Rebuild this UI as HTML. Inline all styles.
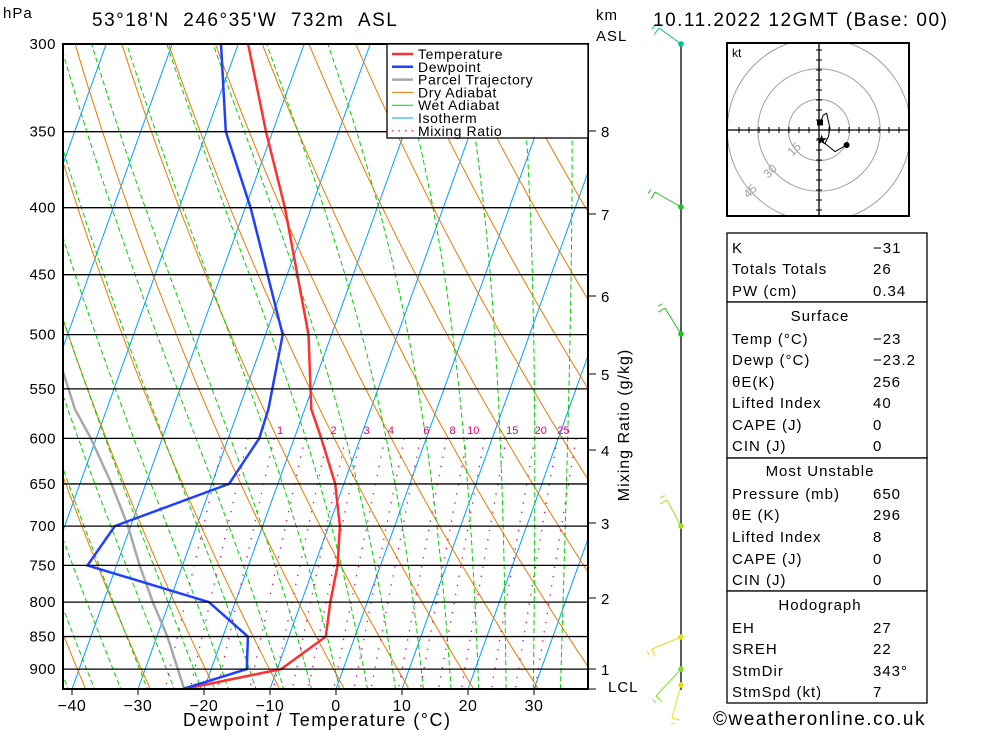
<!DOCTYPE html>
<html><head><meta charset="utf-8"><style>
html,body{margin:0;padding:0;background:#fff;}
svg{display:block;font-family:"Liberation Sans",sans-serif;}
text{fill:#000;}
</style></head><body>
<svg id="c" width="1000" height="733" viewBox="0 0 1000 733">
<defs><clipPath id="pc"><rect x="63" y="44" width="525" height="645"/></clipPath>
<clipPath id="hc"><rect x="727" y="43" width="182" height="173"/></clipPath></defs>
<g id="grid" clip-path="url(#pc)"></g>
<g id="prof" clip-path="url(#pc)"></g>
<g id="axes"></g>
</svg>
<script>
const pLevels=[932,900,850,800,750,700,650,600,570,500,400,350,300];
const tempVals=[-23,-9.4,-4.4,-5.6,-6.5,-8.3,-11.3,-15.9,-19,-23.5,-34,-41,-48.5];
const dewVals=[-23.2,-14.6,-16.2,-24,-44.4,-42.4,-27.4,-25.3,-25.5,-27.4,-39.2,-47.1,-52.6];
const parcelP=[932,850,800,750,700,650,600,570,500];
const parcelT=[-23,-28.4,-32.5,-36.5,-40.4,-45.2,-50.8,-54.8,-62.5];
const isobars=[300,350,400,450,500,550,600,650,700,750,800,850,900];
const tTicks=[-40,-30,-20,-10,0,10,20,30];
const mixLabels=[1,2,3,4,6,8,10,15,20,25];
const mixLines=[0.5,0.7,1,1.5,2,2.5,3,4,5,6,8,10,12,15,20,25,30];
const kmLabels=[1,2,3,4,5,6,7,8];
const kmPix=[669,598,523,450,374,296,214,131];
const hodoU=[13.8,8,3,4.7,5.5,3.8,2.2,0.5];
const hodoV=[-7.5,-10.8,-6.7,-3.3,0.8,8.3,7.5,3.8];

const NS='http://www.w3.org/2000/svg';
const G=document.getElementById('grid'),P=document.getElementById('prof'),A=document.getElementById('axes');
function yP(p){return 44+569*Math.log(p/300);}
function xT(T,y){return 336+6.6*T+0.36*(689-y);}
function el(tag,par,at,txt){const e=document.createElementNS(NS,tag);for(const k in at)e.setAttribute(k,at[k]);if(txt!==undefined)e.textContent=txt;par.appendChild(e);return e;}
function pathFrom(pts){return 'M'+pts.map(q=>q[0].toFixed(1)+','+q[1].toFixed(1)).join('L');}

for(let T=-130;T<=50;T+=10){
 const e=el('line',G,{x1:xT(T,689),y1:689,x2:xT(T,44),y2:44,stroke:'#00a0ff','stroke-width':1});
 
 
}
for(let th=220;th<=480;th+=10){
 const pts=[];for(let p=300;p<=935;p+=10){const T=th*Math.pow(p/1000,0.286)-273.15;const y=yP(p);pts.push([xT(T,y),y]);}
 const e=el('path',G,{d:pathFrom(pts),fill:'none',stroke:'#f07800','stroke-width':1});
 
 
}
function es(T){return 6.112*Math.exp(17.67*T/(T+243.5));}
function moist(T0,p0,p1){const pts=[];let T=T0+273.15,p=p0;const dp=-2;
 while(p>=p1){const y=yP(p);pts.push([xT(T-273.15,y),y]);
  const e=es(T-273.15),rs=0.622*e/(p-e),Lv=2.5e6,Rd=287,cp=1005;
  const dTdp=(1/p)*(Rd*T+Lv*rs)/(cp+Lv*Lv*rs*0.622/(Rd*T*T));T+=dTdp*dp;p+=dp;}
 return pts;}
for(let T0=-36;T0<=40;T0+=4){
 const e=el('path',G,{d:pathFrom(moist(T0,1000,300)),fill:'none',stroke:'#00d000','stroke-width':1,'stroke-dasharray':'5,3'});
 
 
}
function tdw(w,p){const e=w*p/(622+w);const l=Math.log(e/6.112);return 243.5*l/(17.67-l);}
mixLines.forEach(w=>{const pts=[];for(let p=600;p<=935;p+=5){const y=yP(p);pts.push([xT(tdw(w,p),y),y]);}
 const e=el('path',G,{d:pathFrom(pts),fill:'none',stroke:'#e0007a','stroke-width':1.3,'stroke-dasharray':'1.3,8'});
 
 
});
mixLabels.forEach(w=>{const y=yP(600);const t=el('text',A,{x:xT(tdw(w,600),y)+6,y:434,'font-size':11,'text-anchor':'middle',style:'fill:#e0007a'},String(w));
 
 
});
isobars.forEach(p=>{const y=yP(p);
 const l=el('line',A,{x1:63,y1:y,x2:588,y2:y,stroke:'#000','stroke-width':1.3});
 
 
 const t=el('text',A,{x:56,y:y+5,'font-size':15,'text-anchor':'end','letter-spacing':'0.5'},String(p));
 
 
});
{const pts=parcelP.map((p,i)=>{const y=yP(p);return [xT(parcelT[i],y),y];});
 const e=el('path',P,{d:pathFrom(pts),fill:'none',stroke:'#a8a8a8','stroke-width':2.5});
 
 }
function prof(vals,col,name){const pts=pLevels.map((p,i)=>{const y=yP(p);return [xT(vals[i],y),y];});
 const e=el('path',P,{d:pathFrom(pts),fill:'none',stroke:col,'stroke-width':2.5});
 
 }
prof(tempVals,'#ff3030','temperature-line');
prof(dewVals,'#2040ff','dewpoint-line');
{const r=el('rect',A,{x:63,y:44,width:525,height:645,fill:'none',stroke:'#000','stroke-width':2});
 
 }
tTicks.forEach(T=>{const x=xT(T,689);
 el('line',A,{x1:x,y1:689,x2:x,y2:695,stroke:'#000'});
 const t=el('text',A,{x:x,y:711,'font-size':16,'text-anchor':'middle','letter-spacing':'0.5'},T<0?'\u2212'+(-T):String(T));
 
 
});
kmLabels.forEach((k,i)=>{el('line',A,{x1:588,y1:kmPix[i],x2:596,y2:kmPix[i],stroke:'#000'});
 const t=el('text',A,{x:601,y:kmPix[i]+6,'font-size':15},String(k));
 
 
});
el('line',A,{x1:588,y1:689,x2:596,y2:689,stroke:'#000'});
{const g=el('g',A,{});
 el('rect',g,{x:387,y:44,width:201,height:94,fill:'#fff',stroke:'#000','stroke-width':1.3});
 const items=[['Temperature','#ff3030',2.5,''],['Dewpoint','#2040ff',2.5,''],['Parcel Trajectory','#a8a8a8',2.5,''],['Dry Adiabat','#f07800',1,''],['Wet Adiabat','#00d000',1,''],['Isotherm','#00a0ff',1,''],['Mixing Ratio','#e0007a',1.2,'1.5,5']];
 items.forEach((it,i)=>{const y=54+i*12.8;
  el('line',g,{x1:392,y1:y,x2:413,y2:y,stroke:it[1],'stroke-width':it[2],'stroke-dasharray':it[3]});
  const t=el('text',g,{x:418,y:y+5,'font-size':14,'letter-spacing':'0.6'},it[0]);
  
  
 });}
el('line',A,{x1:681,y1:44,x2:681,y2:690,stroke:'#000','stroke-width':1.3});
const barbs=[[44,659,28,'#00c090'],[207,655,192,'#20c020'],[334,665,308,'#20c020'],[526,667,500,'#a0e020'],[637,652,649,'#e0e020'],[669,656,696,'#80e020'],[685,672,718,'#e0e020']];
barbs.forEach(b=>{const g=el('g',A,{});
 el('line',g,{x1:681,y1:b[0],x2:b[1],y2:b[2],stroke:b[3],'stroke-width':1});
 const dx=b[1]-681,dy=b[2]-b[0],L=Math.hypot(dx,dy);const nx=-dy/L*8,ny=dx/L*8;
 el('line',g,{x1:b[1],y1:b[2],x2:b[1]-nx,y2:b[2]-ny,stroke:b[3],'stroke-width':1});
 el('line',g,{x1:b[1]+dx/L*5,y1:b[2]+dy/L*5,x2:b[1]+dx/L*5-nx*0.6,y2:b[2]+dy/L*5-ny*0.6,stroke:b[3],'stroke-width':1});
 el('circle',g,{cx:681,cy:b[0],r:2.8,fill:b[3]});
});
{const g=el('g',A,{});
 const cx=819,cy=130,s=2;
 el('rect',g,{x:727,y:43,width:182,height:173,fill:'#fff'});
 const cg=el('g',g,{'clip-path':'url(#hc)'});
 [15,30,45].forEach(r=>el('circle',cg,{cx:cx,cy:cy,r:r*s*1.02,fill:'none',stroke:'#a0a0a0','stroke-width':1}));
 el('rect',g,{x:727,y:43,width:182,height:173,fill:'none',stroke:'#000','stroke-width':2});
 el('line',g,{x1:727,y1:cy,x2:909,y2:cy,stroke:'#000','stroke-width':1.3});
 el('line',g,{x1:cx,y1:43,x2:cx,y2:216,stroke:'#000','stroke-width':1.3});
 for(let k=-9;k<=9;k++){if(!k)continue;const d=k*10;
  if(cx+d>729&&cx+d<907)el('line',g,{x1:cx+d,y1:cy-3,x2:cx+d,y2:cy+3,stroke:'#000'});
  if(cy+d>45&&cy+d<214)el('line',g,{x1:cx-3,y1:cy+d,x2:cx+3,y2:cy+d,stroke:'#000'});}
 el('text',g,{x:732,y:57,'font-size':12},'kt');
 [['15',797,152],['30',773,174],['45',753,194]].forEach(a=>el('text',g,{x:a[1],y:a[2],'font-size':12,style:'fill:#a0a0a0',transform:'rotate(-45 '+a[1]+' '+a[2]+')','text-anchor':'middle'},a[0]));
 const pts=hodoU.map((u,i)=>[cx+u*s,cy-hodoV[i]*s]);
 el('path',g,{d:pathFrom(pts),fill:'none',stroke:'#000','stroke-width':1});
 el('circle',g,{cx:pts[0][0],cy:pts[0][1],r:3,fill:'#000'});
 el('rect',g,{x:pts[pts.length-1][0]-3,y:pts[pts.length-1][1]-3,width:6,height:6,fill:'#000'});
 el('text',g,{x:cx+1.3*s,y:cy+4.7*s+5,'font-size':14,'text-anchor':'middle'},'\u2605');
}
const rows=[
 [233,302,[['K','\u221231',247],['Totals Totals','26',268],['PW (cm)','0.34',290]],null],
 [302,458,[['Temp (\u00b0C)','\u221223',338],['Dewp (\u00b0C)','\u221223.2',359],['\u03b8E(K)','256',381],['Lifted Index','40',402],['CAPE (J)','0',424],['CIN (J)','0',445]],['Surface',316]],
 [458,591,[['Pressure (mb)','650',493],['\u03b8E (K)','296',514],['Lifted Index','8',536],['CAPE (J)','0',558],['CIN (J)','0',579]],['Most Unstable',471]],
 [591,703,[['EH','27',627],['SREH','22',648],['StmDir','343\u00b0',670],['StmSpd (kt)','7',691]],['Hodograph',605]]];
rows.forEach(r=>{const g=el('g',A,{});
 el('rect',g,{x:727,y:r[0],width:200,height:r[1]-r[0],fill:'#fff',stroke:'#000','stroke-width':1.3});
 if(r[3])el('text',g,{x:820,y:r[3][1]+5,'font-size':15,'text-anchor':'middle','letter-spacing':'1'},r[3][0]);
 r[2].forEach(q=>{el('text',g,{x:732,y:q[2]+6,'font-size':15,'letter-spacing':'1'},q[0]);
  el('text',g,{x:873,y:q[2]+6,'font-size':15,'letter-spacing':'1'},q[1]);});
});
</script>
<div style="position:absolute;left:0;top:0;width:1000px;height:733px;pointer-events:none;font-family:'Liberation Sans',sans-serif;">
<div style="position:absolute;left:3px;top:5px;font-size:15px;letter-spacing:1px">hPa</div>
<div style="position:absolute;left:92px;top:10px;font-size:19px;letter-spacing:1.5px">53°18'N &nbsp;246°35'W &nbsp;732m &nbsp;ASL</div>
<div style="position:absolute;left:596px;top:5px;font-size:15px;line-height:21px;letter-spacing:1px">km<br>ASL</div>
<div style="position:absolute;left:653px;top:10px;font-size:19px;letter-spacing:1.5px">10.11.2022 12GMT (Base: 00)</div>
<div style="position:absolute;left:608px;top:679px;font-size:15px;letter-spacing:1px">LCL</div>
<div style="position:absolute;left:183px;top:710px;font-size:18px;letter-spacing:1.5px">Dewpoint / Temperature (°C)</div>
<div style="position:absolute;left:625px;top:425px;font-size:16px;letter-spacing:1px;white-space:nowrap;transform:translate(-50%,-50%) rotate(-90deg)">Mixing Ratio (g/kg)</div>
<div style="position:absolute;left:713px;top:709px;font-size:19px;letter-spacing:1.5px">©weatheronline.co.uk</div>
</div>
</body></html>
